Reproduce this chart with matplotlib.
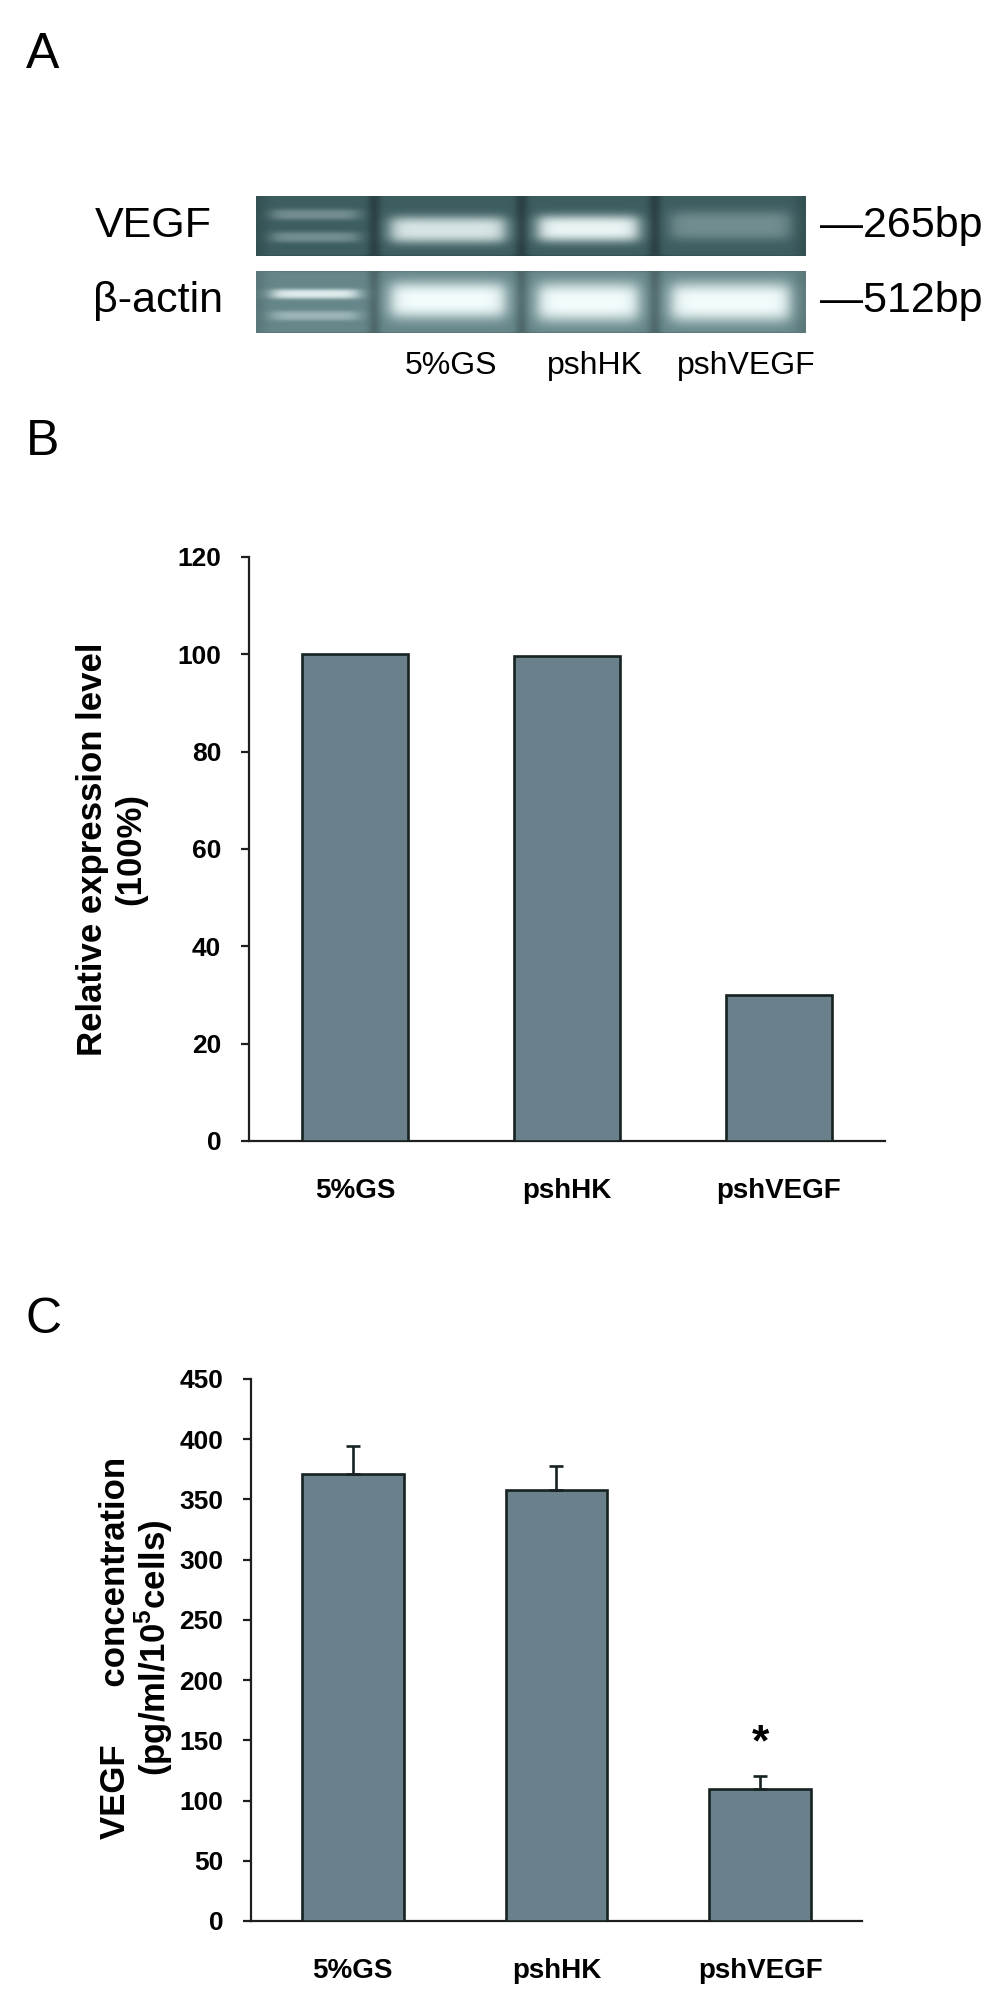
import numpy as np
import matplotlib
matplotlib.use('Agg')
import matplotlib.pyplot as plt

plt.rcParams['font.family'] = ['Liberation Sans', 'DejaVu Sans']
plt.rcParams['mathtext.fontset'] = 'custom'
plt.rcParams['mathtext.rm'] = 'Liberation Sans'
plt.rcParams['mathtext.bf'] = 'Liberation Sans:bold'

# ---------------- data ----------------
gel_lane_labels = ['5%GS', 'pshHK', 'pshVEGF']
gel_row_labels = ['VEGF', 'β-actin']
gel_size_labels = ['—265bp', '—512bp']
vegf_band = [0.30, 0.85, 0.95, 0.30]     # marker, 5%GS, pshHK, pshVEGF
actin_band = [0.85, 1.00, 1.00, 1.00]

categories = ['5%GS', 'pshHK', 'pshVEGF']
rel_expression = [100.0, 99.6, 29.9]
b_yticks = [0, 20, 40, 60, 80, 100, 120]

vegf_conc = [371, 358, 110]
vegf_err = [23, 20, 10]
c_yticks = [0, 50, 100, 150, 200, 250, 300, 350, 400, 450]

# ---------------- figure ----------------
W, H = 1004, 2012
fig = plt.figure(figsize=(W / 100, H / 100), dpi=100)
fig.patch.set_facecolor('white')


def rect(x0, y0, x1, y1):
    return [x0 / W, 1 - y1 / H, (x1 - x0) / W, (y1 - y0) / H]


def fx(x):
    return x / W


def fy(y):
    return 1 - y / H


# ---------------- panel A: gel ----------------
lane_edges = [0.0, 0.215, 0.483, 0.725, 1.0]


def sig(z):
    return 1 / (1 + np.exp(-z))


def gel_row(h, w, bg, bands, sep_dark):
    x = (np.arange(w) + 0.5) / w
    y = (np.arange(h) + 0.5) / h
    X, Y = np.meshgrid(x, y)
    inten = np.zeros_like(X)
    for lane, yc, sy, amp in bands:
        a, b = lane_edges[lane], lane_edges[lane + 1]
        m = 0.03
        px = sig((X - a - m) / 0.008) * sig((b - m - X) / 0.008)
        py = np.exp(-np.abs((Y - yc) / sy) ** 3)
        inten += amp * px * py
    inten = np.clip(inten, 0, 1)
    base = np.ones((h, w, 3)) * np.array(bg)[None, None, :]
    dark = np.zeros_like(X)
    for e in lane_edges[1:-1]:
        dark += np.exp(-((X - e) / 0.012) ** 2)
    edge = np.minimum(np.minimum(X, 1 - X), np.minimum(Y, 1 - Y))
    dark += 0.5 * np.exp(-(edge / 0.02) ** 2)
    base = base * (1 - sep_dark * np.clip(dark, 0, 1))[..., None]
    white = np.array([0.95, 0.99, 0.99])
    img = base + (white[None, None, :] - base) * inten[..., None]
    return img


gw = 550
row1 = gel_row(60, gw, (0.24, 0.37, 0.38),
               [(0, 0.32, 0.09, vegf_band[0]), (0, 0.69, 0.09, vegf_band[0]),
                (1, 0.57, 0.22, vegf_band[1]), (2, 0.55, 0.22, vegf_band[2]),
                (3, 0.50, 0.24, vegf_band[3])], 0.3)
row2 = gel_row(62, gw, (0.40, 0.53, 0.54),
               [(0, 0.37, 0.08, actin_band[0]), (0, 0.72, 0.08, 0.45 * actin_band[0]),
                (1, 0.47, 0.30, actin_band[1]), (2, 0.50, 0.32, actin_band[2]),
                (3, 0.50, 0.32, actin_band[3])], 0.22)

axg1 = fig.add_axes(rect(256, 196, 806, 256))
axg1.imshow(row1, aspect='auto', interpolation='bilinear')
axg1.axis('off')
axg2 = fig.add_axes(rect(256, 271, 806, 333))
axg2.imshow(row2, aspect='auto', interpolation='bilinear')
axg2.axis('off')

fig.text(fx(26), fy(55), 'A', fontsize=36, ha='left', va='center')
fig.text(fx(95), fy(226), gel_row_labels[0], fontsize=31, ha='left', va='center')
fig.text(fx(93), fy(301), gel_row_labels[1], fontsize=31, ha='left', va='center')
fig.text(fx(820), fy(226), gel_size_labels[0], fontsize=31, ha='left', va='center')
fig.text(fx(820), fy(301), gel_size_labels[1], fontsize=31, ha='left', va='center')
lane_label_x = [451, 595, 746]
for lab, xc in zip(gel_lane_labels, lane_label_x):
    fig.text(fx(xc), fy(366), lab, fontsize=23, ha='center', va='center')

# ---------------- common style ----------------
bar_color = '#6a808a'
edge_color = '#172222'
spine_color = '#1e1e1e'


def style(ax, yticks):
    for s in ['top', 'right']:
        ax.spines[s].set_visible(False)
    for s in ['left', 'bottom']:
        ax.spines[s].set_color(spine_color)
        ax.spines[s].set_linewidth(1.6)
    ax.set_yticks(yticks)
    ax.set_ylim(yticks[0], yticks[-1])
    ax.set_xlim(-0.5, 2.5)
    ax.tick_params(axis='y', direction='out', length=6, width=1.6,
                   color=spine_color, pad=14, labelsize=19)
    ax.tick_params(axis='x', length=0, labelsize=20, pad=27)
    for t in ax.get_yticklabels() + ax.get_xticklabels():
        t.set_fontweight('bold')


xpos = np.arange(len(categories))

# ---------------- panel B ----------------
fig.text(fx(26), fy(442), 'B', fontsize=36, ha='left', va='center')
axb = fig.add_axes(rect(249, 557, 885, 1141))
axb.bar(xpos, rel_expression, width=0.5, color=bar_color,
        edgecolor=edge_color, linewidth=1.9, zorder=3)
axb.set_xticks(xpos)
axb.set_xticklabels(categories)
style(axb, b_yticks)
fig.text(fx(112), fy(849), 'Relative expression level\n(100%)', rotation=90,
         ha='center', va='center', fontsize=25, fontweight='bold',
         multialignment='center', linespacing=1.2)

# ---------------- panel C ----------------
fig.text(fx(26), fy(1320), 'C', fontsize=36, ha='left', va='center')
axc = fig.add_axes(rect(251, 1379, 862, 1921))
axc.bar(xpos, vegf_conc, width=0.5, color=bar_color,
        edgecolor=edge_color, linewidth=1.9, zorder=3)
axc.errorbar(xpos, vegf_conc, yerr=[np.zeros(len(vegf_err)), vegf_err],
             fmt='none', ecolor=edge_color, elinewidth=1.9, capsize=5,
             capthick=1.9, zorder=4)
axc.set_xticks(xpos)
axc.set_xticklabels(categories)
style(axc, c_yticks)
axc.annotate('*', xy=(xpos[2], vegf_conc[2] + vegf_err[2]), xytext=(0, 9),
             textcoords='offset points', ha='center', va='bottom',
             fontsize=32, fontweight='bold')
fig.text(fx(137), fy(1648),
         'VEGF      concentration\n(pg/ml/10$^{\\mathbf{5}}$cells)', rotation=90,
         ha='center', va='center', fontsize=25, fontweight='bold',
         multialignment='center', linespacing=1.0)

fig.savefig('out.png', dpi=100, facecolor='white')
